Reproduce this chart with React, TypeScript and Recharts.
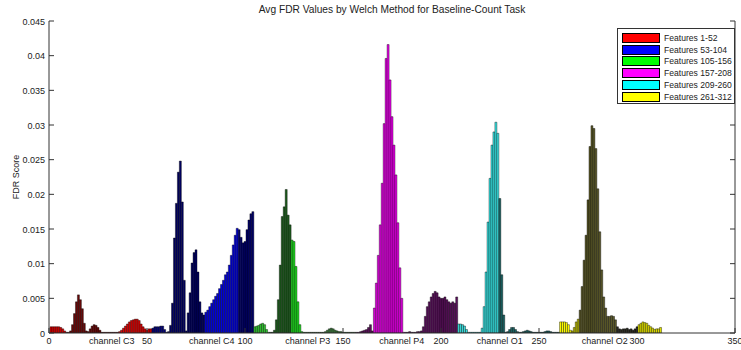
import React from 'react';
import { BarChart, Bar, XAxis, YAxis, Cell } from 'recharts';

// FDR score per feature, one array per channel (52 features each)
const c3 = [
  0.0009, 0.0009, 0.0009, 0.0009, 0.0009, 0.0008, 0.0006, 0.0003, 0.0001, 0.0001,
  0.0003, 0.0012, 0.0028, 0.0045, 0.0055, 0.0048, 0.0035, 0.0014, 0.0003, 0.0002,
  0.0006, 0.001, 0.0012, 0.0011, 0.0008, 0.0004, 0.0001, 0.0001, 0.0001, 0.0001,
  0.0001, 0.0001, 0.0001, 0.0001, 0.0001, 0.0002, 0.0004, 0.0007, 0.001, 0.0013,
  0.0016, 0.0018, 0.0019, 0.002, 0.002, 0.0018, 0.0013, 0.0009, 0.0006, 0.0004,
  0.0006, 0.0006,
];
const c4 = [
  0.0007, 0.0009, 0.0009, 0.0009, 0.001, 0.001, 0.0005, 0.0001, 0.0002, 0.0011,
  0.0043, 0.0137, 0.0187, 0.0232, 0.0248, 0.0189, 0.0076, 0.0003, 0.0029, 0.0058,
  0.0101, 0.0116, 0.012, 0.0088, 0.0045, 0.0029, 0.0026, 0.003, 0.0033, 0.0038,
  0.0043, 0.0048, 0.0053, 0.0057, 0.0064, 0.007, 0.0076, 0.0084, 0.0088, 0.0098,
  0.0112, 0.0127, 0.0141, 0.0151, 0.0149, 0.0138, 0.013, 0.0132, 0.0149, 0.0163,
  0.0172, 0.0175,
];
const p3 = [
  0.0009, 0.001, 0.0011, 0.0013, 0.0014, 0.0012, 0.0005, 0.0001, 0.0001, 0.0001,
  0.0004, 0.0019, 0.0048, 0.0098, 0.0168, 0.0182, 0.0207, 0.017, 0.0156, 0.0134,
  0.0132, 0.0096, 0.0045, 0.0012, 0.0002, 0.0001, 0.0001, 0.0001, 0.0001, 0.0001,
  0.0001, 0.0001, 0.0001, 0.0001, 0.0001, 0.0001, 0.0002, 0.0004, 0.0006, 0.0007,
  0.0006, 0.0004, 0.0003, 0.0002, 0.0002, 0.0001, 0.0001, 0.0001, 0.0001, 0.0001,
  0.0001, 0.0001,
];
const p4 = [
  0.0001, 0.0001, 0.0002, 0.0003, 0.0004, 0.0005, 0.0008, 0.0012, 0.0003, 0.0036,
  0.0072, 0.0112, 0.0156, 0.0216, 0.0302, 0.0396, 0.0416, 0.0365, 0.0312, 0.0271,
  0.0228, 0.0159, 0.0094, 0.005, 0.0001, 0.0001, 0.0001, 0.0002, 0.0001, 0.0001,
  0.0001, 0.0002, 0.0002, 0.0003, 0.0009, 0.0024, 0.0038, 0.0045, 0.0052, 0.0057,
  0.006, 0.0058, 0.0052, 0.005, 0.005, 0.0052, 0.0048, 0.0045, 0.0043, 0.0045,
  0.0043, 0.0052,
];
const o1 = [
  0.0013, 0.0013, 0.0012, 0.001, 0.0005, 0.0001, 0.0001, 0.0001, 0.0001, 0.0001,
  0.0001, 0.0001, 0.0007, 0.0038, 0.0088, 0.016, 0.0223, 0.0271, 0.029, 0.0304,
  0.0288, 0.0194, 0.0084, 0.0026, 0.0001, 0.0002, 0.0005, 0.0008, 0.0008, 0.0005,
  0.0002, 0.0001, 0.0001, 0.0002, 0.0003, 0.0004, 0.0003, 0.0002, 0.0001, 0.0001,
  0.0001, 0.0001, 0.0001, 0.0001, 0.0002, 0.0003, 0.0003, 0.0002, 0.0001, 0.0001,
  0.0001, 0.0001,
];
const o2 = [
  0.0016, 0.0016, 0.0016, 0.0015, 0.0012, 0.0004, 0.0003, 0.0008, 0.0016, 0.002,
  0.0033, 0.0067, 0.0105, 0.0141, 0.0192, 0.0269, 0.0299, 0.0295, 0.0266, 0.0208,
  0.0146, 0.0091, 0.0052, 0.0036, 0.0024, 0.0024, 0.0025, 0.0024, 0.0019, 0.0009,
  0.0006, 0.0005, 0.0006, 0.0006, 0.0007, 0.0005, 0.0006, 0.0004, 0.0006, 0.0009,
  0.0012, 0.0014, 0.0016, 0.0015, 0.0014, 0.0011, 0.0009, 0.0007, 0.0005, 0.0006,
  0.0006, 0.0008,
];

const xTicks = [0, 50, 100, 150, 200, 250, 300, 350];
const yTicks = [0, 0.005, 0.01, 0.015, 0.02, 0.025, 0.03, 0.035, 0.04, 0.045];
const channelNames = ['channel C3', 'channel C4', 'channel P3', 'channel P4', 'channel O1', 'channel O2'];
const channelPos = [32, 83, 132, 180, 230, 283.5];
const legendLabels = [
  'Features 1-52', 'Features 53-104', 'Features 105-156',
  'Features 157-208', 'Features 209-260', 'Features 261-312',
];
const legendColors = ['#ff0000', '#0000ff', '#00ff00', '#ff00ff', '#00ffff', '#ffff00'];

// shading of the bars: [first feature, last feature, colour]
const shades: [number, number, string][] = [
  [1, 8, '#e00000'], [9, 35, '#6a0808'], [36, 52, '#e00000'],
  [53, 60, '#00007a'], [61, 79, '#000062'], [80, 96, '#0000e0'], [97, 104, '#00006e'],
  [105, 112, '#30c830'], [113, 123, '#1d5e1d'], [124, 129, '#22dd22'], [130, 156, '#3a7a3a'],
  [157, 165, '#5a0a5a'], [166, 181, '#e800e8'], [182, 208, '#5c105e'],
  [209, 213, '#38dcdc'], [214, 229, '#38e4e4'], [230, 260, '#1a6464'],
  [261, 266, '#ffff00'], [267, 270, '#b8b800'], [271, 289, '#5c5a2a'], [290, 300, '#2a2a20'], [301, 312, '#e0e000'],
];

const fdr = [...c3, ...c4, ...p3, ...p4, ...o1, ...o2];
const data = fdr.map((v, i) => ({ feature: i + 1, fdr: v }));
const colorOf = (f: number) => {
  const s = shades.find(([a, b]) => f >= a && f <= b);
  return s ? s[2] : '#000';
};

const font = '"Liberation Sans", Arial, sans-serif';
const textColor = '#222';

const BottomTick = (props: any) => {
  const { x, y, payload } = props;
  const v = payload.value;
  const ci = channelPos.indexOf(v);
  if (ci >= 0) {
    return (
      <text x={x} y={y + 11} textAnchor="middle" fontSize={9} fontFamily={font} fill={textColor}>
        {channelNames[ci]}
      </text>
    );
  }
  return (
    <g>
      <line x1={x} x2={x} y1={y} y2={y - 5} stroke="#333" />
      <text x={x} y={y + 11} textAnchor="middle" fontSize={9} fontFamily={font} fill={textColor}>
        {v}
      </text>
    </g>
  );
};

const TopTick = (props: any) => {
  const { x, y } = props;
  return <line x1={x} x2={x} y1={y} y2={y + 5} stroke="#333" />;
};

const LeftTick = (props: any) => {
  const { x, y, payload } = props;
  return (
    <g>
      <line x1={x} x2={x + 5} y1={y} y2={y} stroke="#333" />
      <text x={x - 4} y={y + 3.5} textAnchor="end" fontSize={9} fontFamily={font} fill={textColor}>
        {payload.value}
      </text>
    </g>
  );
};

const RightTick = (props: any) => {
  const { x, y } = props;
  return <line x1={x} x2={x - 5} y1={y} y2={y} stroke="#333" />;
};

export default function App() {
  return (
    <div style={{ position: 'absolute', left: 0, top: 0, width: 741, height: 350, background: '#fff' }}>
      <BarChart
        width={741}
        height={350}
        data={data}
        margin={{ top: 21, right: 5, bottom: 0, left: 0 }}
        barCategoryGap={0}
        barGap={0}
      >
        <XAxis
          xAxisId="bottom"
          dataKey="feature"
          type="number"
          domain={[0, 350]}
          ticks={[...xTicks, ...channelPos].sort((a, b) => a - b)}
          interval={0}
          tickSize={0}
          tickMargin={0}
          tickLine={false}
          tick={<BottomTick />}
          axisLine={{ stroke: '#333' }}
          height={17}
          allowDataOverflow
        />
        <XAxis
          xAxisId="top"
          orientation="top"
          dataKey="feature"
          type="number"
          domain={[0, 350]}
          ticks={xTicks}
          interval={0}
          tickSize={0}
          tickMargin={0}
          tickLine={false}
          tick={<TopTick />}
          axisLine={{ stroke: '#333' }}
          height={0}
          allowDataOverflow
        />
        <YAxis
          yAxisId="left"
          domain={[0, 0.045]}
          ticks={yTicks}
          interval={0}
          tickSize={0}
          tickMargin={0}
          tickLine={false}
          tick={<LeftTick />}
          axisLine={{ stroke: '#333' }}
          width={49}
          allowDataOverflow
          label={{
            value: 'FDR Score',
            angle: -90,
            position: 'insideLeft',
            offset: 16,
            style: { fontSize: 9, fontFamily: font, fill: textColor, textAnchor: 'middle' },
          }}
        />
        <YAxis
          yAxisId="right"
          orientation="right"
          domain={[0, 0.045]}
          ticks={yTicks}
          interval={0}
          tickSize={0}
          tickMargin={0}
          tickLine={false}
          tick={<RightTick />}
          axisLine={{ stroke: '#333' }}
          width={1}
          allowDataOverflow
        />
        <Bar
          xAxisId="bottom"
          yAxisId="left"
          dataKey="fdr"
          stroke="#000"
          strokeWidth={0.4}
          isAnimationActive={false}
        >
          {data.map((d) => (
            <Cell key={d.feature} fill={colorOf(d.feature)} />
          ))}
        </Bar>
        <text x={392} y={13} textAnchor="middle" fontSize={10.2} fontFamily={font} fill={textColor}>
          Avg FDR Values by Welch Method for Baseline-Count Task
        </text>
      </BarChart>
      <div
        style={{
          position: 'absolute',
          left: 617,
          top: 28,
          width: 118,
          height: 76,
          border: '1px solid #333',
          background: '#fff',
          fontFamily: font,
          fontSize: 8.6,
          color: textColor,
          padding: '3px 0 0 4px',
          boxSizing: 'border-box',
        }}
      >
        {legendLabels.map((lab, i) => (
          <div key={lab} style={{ display: 'flex', alignItems: 'center', height: 11.8 }}>
            <span
              style={{
                display: 'inline-block',
                width: 38,
                height: 10,
                background: legendColors[i],
                border: '1px solid #000',
                marginRight: 4,
                boxSizing: 'border-box',
                flexShrink: 0,
              }}
            />
            <span style={{ whiteSpace: 'nowrap' }}>{lab}</span>
          </div>
        ))}
      </div>
    </div>
  );
}
